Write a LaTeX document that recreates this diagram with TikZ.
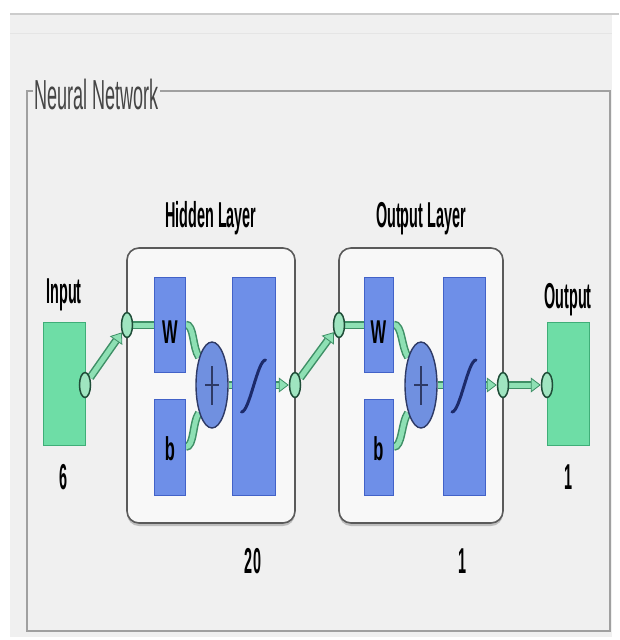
\documentclass[tikz,border=0pt]{standalone}
\usepackage{fontspec}
\setmainfont{Liberation Sans}
\usepackage{graphicx}
\usetikzlibrary{arrows.meta,shapes.geometric,shadows}
\definecolor{bgc}{HTML}{F0F0F0}
\definecolor{framec}{HTML}{A0A0A0}
\definecolor{layfill}{HTML}{F8F8F8}
\definecolor{laydraw}{HTML}{5A5A5A}
\definecolor{bluef}{HTML}{6E8FE8}
\definecolor{blued}{HTML}{4262C8}
\definecolor{greenf}{HTML}{6EDDA6}
\definecolor{greend}{HTML}{3FAE78}
\definecolor{connL}{HTML}{8EE0B4}
\definecolor{connD}{HTML}{3E8F66}
\definecolor{circf}{HTML}{9FE5C0}
\definecolor{circd}{HTML}{1F4D38}
\definecolor{plusf}{HTML}{7090E0}
\definecolor{plusd}{HTML}{2E3A66}
\definecolor{navy}{HTML}{1C2A6A}
\definecolor{titlec}{HTML}{454545}
\pgfdeclarelayer{back}
\pgfdeclarelayer{mid}
\pgfsetlayers{back,mid,main}
\newcommand\lbl[1]{\scalebox{0.4}[1]{\fontsize{36}{36}\selectfont\bfseries #1}}
\newcommand\wlbl[1]{\scalebox{0.5}[1]{\fontsize{33}{33}\selectfont\bfseries #1}}
\begin{document}
\begin{tikzpicture}[x=1pt,y=-1pt,
  layerbox/.style={rectangle, rounded corners=12pt, draw=laydraw, line width=1.6pt, fill=layfill,
    drop shadow={shadow xshift=0pt, shadow yshift=-3pt, opacity=0.45}, inner sep=0pt},
  bluebox/.style={rectangle, draw=blued, line width=1pt, fill=bluef, inner sep=0pt},
  greenbox/.style={rectangle, draw=greend, line width=1pt, fill=greenf, inner sep=0pt},
  plusnode/.style={ellipse, draw=plusd, line width=1.4pt, fill=plusf, inner sep=0pt, minimum width=32pt, minimum height=86pt},
  port/.style={ellipse, draw=circd, line width=1.5pt, fill=circf, inner sep=0pt, minimum width=11pt, minimum height=25pt},
  txt/.style={anchor=base, inner sep=0pt},
  connout/.style={draw=connD, line width=8pt},
  connin/.style={draw=connL, line width=5pt},
  tipA/.style={-{Triangle[length=10pt,width=15pt,line width=0.8pt,color=connD,fill=connL]}},
  plusline/.style={draw=plusd, line width=2.4pt},
  sigline/.style={draw=navy, line width=3pt, line cap=round}
]
\useasboundingbox (0,0) rectangle (619,640);
\begin{pgfonlayer}{back}
  \fill[white] (0,0) rectangle (619,640);
  \fill[bgc] (10,14) rectangle (612,637);
  \draw[line width=2pt, color=black!20] (10,14) -- (619,14);
  \draw[line width=0.8pt, color=black!10] (10,33) -- (612,33);
  \draw[framec, line width=1.2pt] (27,91) rectangle (610,631);
  \node[anchor=base west, fill=bgc, inner sep=1pt, text=titlec] (title) at (33,109)
    {\scalebox{0.43}[1]{\fontsize{42}{42}\selectfont Neural Network}};
  \node[layerbox, minimum width=168pt, minimum height=275pt] (hid) at (211,385.5) {};
  \node[layerbox, minimum width=164pt, minimum height=275pt] (outl) at (421,385.5) {};
\end{pgfonlayer}

% boxes
\node[greenbox, minimum width=42pt, minimum height=123pt] (inbox) at (64,383.5) {};
\node[greenbox, minimum width=42pt, minimum height=123pt] (outbox) at (568,383.5) {};

\node[bluebox, minimum width=31pt, minimum height=95pt] (W1) at (169.5,324.5) {};
\node[bluebox, minimum width=31pt, minimum height=96pt] (b1) at (169.5,447) {};
\node[plusnode] (p1) at (212,385) {};
\node[bluebox, minimum width=43pt, minimum height=218pt] (s1) at (253.5,386) {};

\node[bluebox, minimum width=29pt, minimum height=95pt] (W2) at (378.5,324.5) {};
\node[bluebox, minimum width=29pt, minimum height=96pt] (b2) at (378.5,447) {};
\node[plusnode] (p2) at (421,385) {};
\node[bluebox, minimum width=42pt, minimum height=218pt] (s2) at (464,386) {};

% ports
\node[port] (ci) at (85,385) {};
\node[port] (chi) at (127,325) {};
\node[port] (cho) at (295,385) {};
\node[port] (coi) at (339,325) {};
\node[port] (coo) at (503,385) {};
\node[port] (co) at (547,385) {};

% plus signs and sigmoids
\foreach \p in {p1,p2}{
  \draw[plusline] ([yshift=19pt]\p.center) -- ([yshift=-20pt]\p.center);
  \draw[plusline] ([xshift=-7pt]\p.center) -- ([xshift=7pt]\p.center);
}
\foreach \s in {s1,s2}{
  \draw[sigline] ([shift={(-12pt,-26pt)}]\s.center) .. controls ([shift={(-4pt,-26pt)}]\s.center) and ([shift={(4pt,26pt)}]\s.center) .. ([shift={(12pt,26pt)}]\s.center);
}

% connectors
\begin{pgfonlayer}{mid}
  \foreach \a/\b in {ci/chi, cho/coi, coo/co}{
    \draw[connout, shorten >=10pt] (\a) -- (\b);
    \draw[connin, tipA] (\a) -- (\b);
  }
  \draw[connout, shorten >=10pt] (s1.east |- cho) -- (cho);
  \draw[connin, tipA] (s1.east |- cho) -- (cho);
  \draw[connout, shorten >=10pt] (s2.east |- coo) -- (coo);
  \draw[connin, tipA] (s2.east |- coo) -- (coo);
  \foreach \c/\w/\bb/\p/\s in {chi/W1/b1/p1/s1, coi/W2/b2/p2/s2}{
    \draw[connout] (\c) -- (\w.west |- \c);
    \draw[connin] (\c) -- (\w.west |- \c);
    \draw[connout] (\w.east) .. controls +(9,0) and +(-7,-10) .. (\p.115);
    \draw[connin] (\w.east) .. controls +(9,0) and +(-7,-10) .. (\p.115);
    \draw[connout] (\bb.east) .. controls +(9,0) and +(-7,10) .. (\p.245);
    \draw[connin] (\bb.east) .. controls +(9,0) and +(-7,10) .. (\p.245);
    \draw[connout] (\p.east) -- (\s.west |- \p.east);
    \draw[connin] (\p.east) -- (\s.west |- \p.east);
  }
\end{pgfonlayer}

% labels
\node[txt] (tIn) at (64,303) {\lbl{Input}};
\node[txt] (tOut) at (568,308) {\lbl{Output}};
\node[txt] (tHid) at (211,227) {\lbl{Hidden Layer}};
\node[txt] (tOL) at (421,227) {\lbl{Output Layer}};
\node[txt] (t6) at (64,489) {\lbl{6}};
\node[txt] (t1a) at (568,489) {\lbl{1}};
\node[txt] (t20) at (253,573) {\lbl{20}};
\node[txt] (t1b) at (462,573) {\lbl{1}};
\node[txt] (w1t) at (170,343) {\wlbl{W}};
\node[txt] (b1t) at (170,460) {\wlbl{b}};
\node[txt] (w2t) at (378.5,343) {\wlbl{W}};
\node[txt] (b2t) at (378.5,460) {\wlbl{b}};
\end{tikzpicture}
\end{document}
